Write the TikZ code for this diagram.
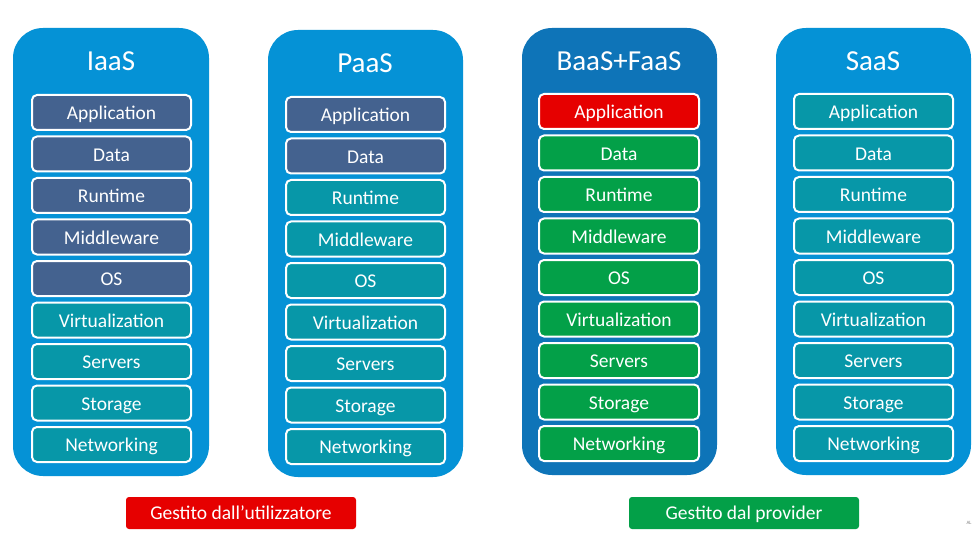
\documentclass[tikz,border=0pt]{standalone}
\usepackage{fontspec}
\setmainfont{Carlito}
\definecolor{colblue}{HTML}{0592D6}
\definecolor{coldark}{HTML}{0E74B8}
\definecolor{slate}{HTML}{44628F}
\definecolor{teal}{HTML}{0797A8}
\definecolor{grn}{HTML}{03A048}
\definecolor{rd}{HTML}{E60000}
\tikzset{
  outer/.style={fill=#1, draw=none, rounded corners=30pt},
  layer/.style={fill=#1, draw=white, line width=2pt, rounded corners=5pt,
    text=white, font=\fontsize{19.5}{21}\selectfont, inner sep=0pt,
    minimum height=35pt, text height=16pt, text depth=1.4pt},
  title/.style={text=white, font=\fontsize{29}{31}\selectfont},
  legend/.style={fill=#1, draw=none, rounded corners=3pt, text=white,
    font=\fontsize{19.5}{21}\selectfont, inner sep=0pt, minimum width=230pt,
    minimum height=32pt, text height=14pt, text depth=1.4pt}
}
\begin{document}
\begin{tikzpicture}[x=1pt,y=-1pt]
\useasboundingbox (0,0) rectangle (977,540);
\fill[white] (0,0) rectangle (977,540);
% outer panels
\path[outer=colblue] (13,28) rectangle (209,476);
\path[outer=colblue] (268,30) rectangle (463,477);
\path[outer=coldark] (522,28) rectangle (717,475);
\path[outer=colblue] (776,28) rectangle (971,475);
% titles
\node[title] (tI) at (111,61) {IaaS};
\node[title] (tP) at (365,63) {PaaS};
\node[title] (tB) at (619,61) {BaaS+FaaS};
\node[title] (tS) at (873,61) {SaaS};
% layers
\foreach \lab [count=\i] in {Application,Data,Runtime,Middleware,OS,Virtualization,Servers,Storage,Networking}{
  \pgfmathsetmacro{\yy}{95+17.5+(\i-1)*41.5}
  \ifnum\i<6 \def\ca{slate}\else\def\ca{teal}\fi
  \node[layer=\ca, minimum width=159pt] (i\i) at (111.5,\yy) {\lab};
  \pgfmathsetmacro{\yp}{97+17.5+(\i-1)*41.5}
  \ifnum\i<3 \def\cb{slate}\else\def\cb{teal}\fi
  \node[layer=\cb, minimum width=159pt] (p\i) at (365.5,\yp) {\lab};
  \pgfmathsetmacro{\yb}{94+17.5+(\i-1)*41.5}
  \ifnum\i<2 \def\cc{rd}\else\def\cc{grn}\fi
  \node[layer=\cc, minimum width=160pt] (b\i) at (619,\yb) {\lab};
  \node[layer=teal, minimum width=159pt] (s\i) at (873.5,\yb) {\lab};
}
% legend
\node[legend=rd] (lu) at (241,513) {Gestito dall’utilizzatore};
\node[legend=grn] (lp) at (744,513) {Gestito dal provider};
\node[text=gray, font=\fontsize{5}{6}\selectfont, inner sep=0pt] (al) at (969,523) {AL};
\end{tikzpicture}
\end{document}
